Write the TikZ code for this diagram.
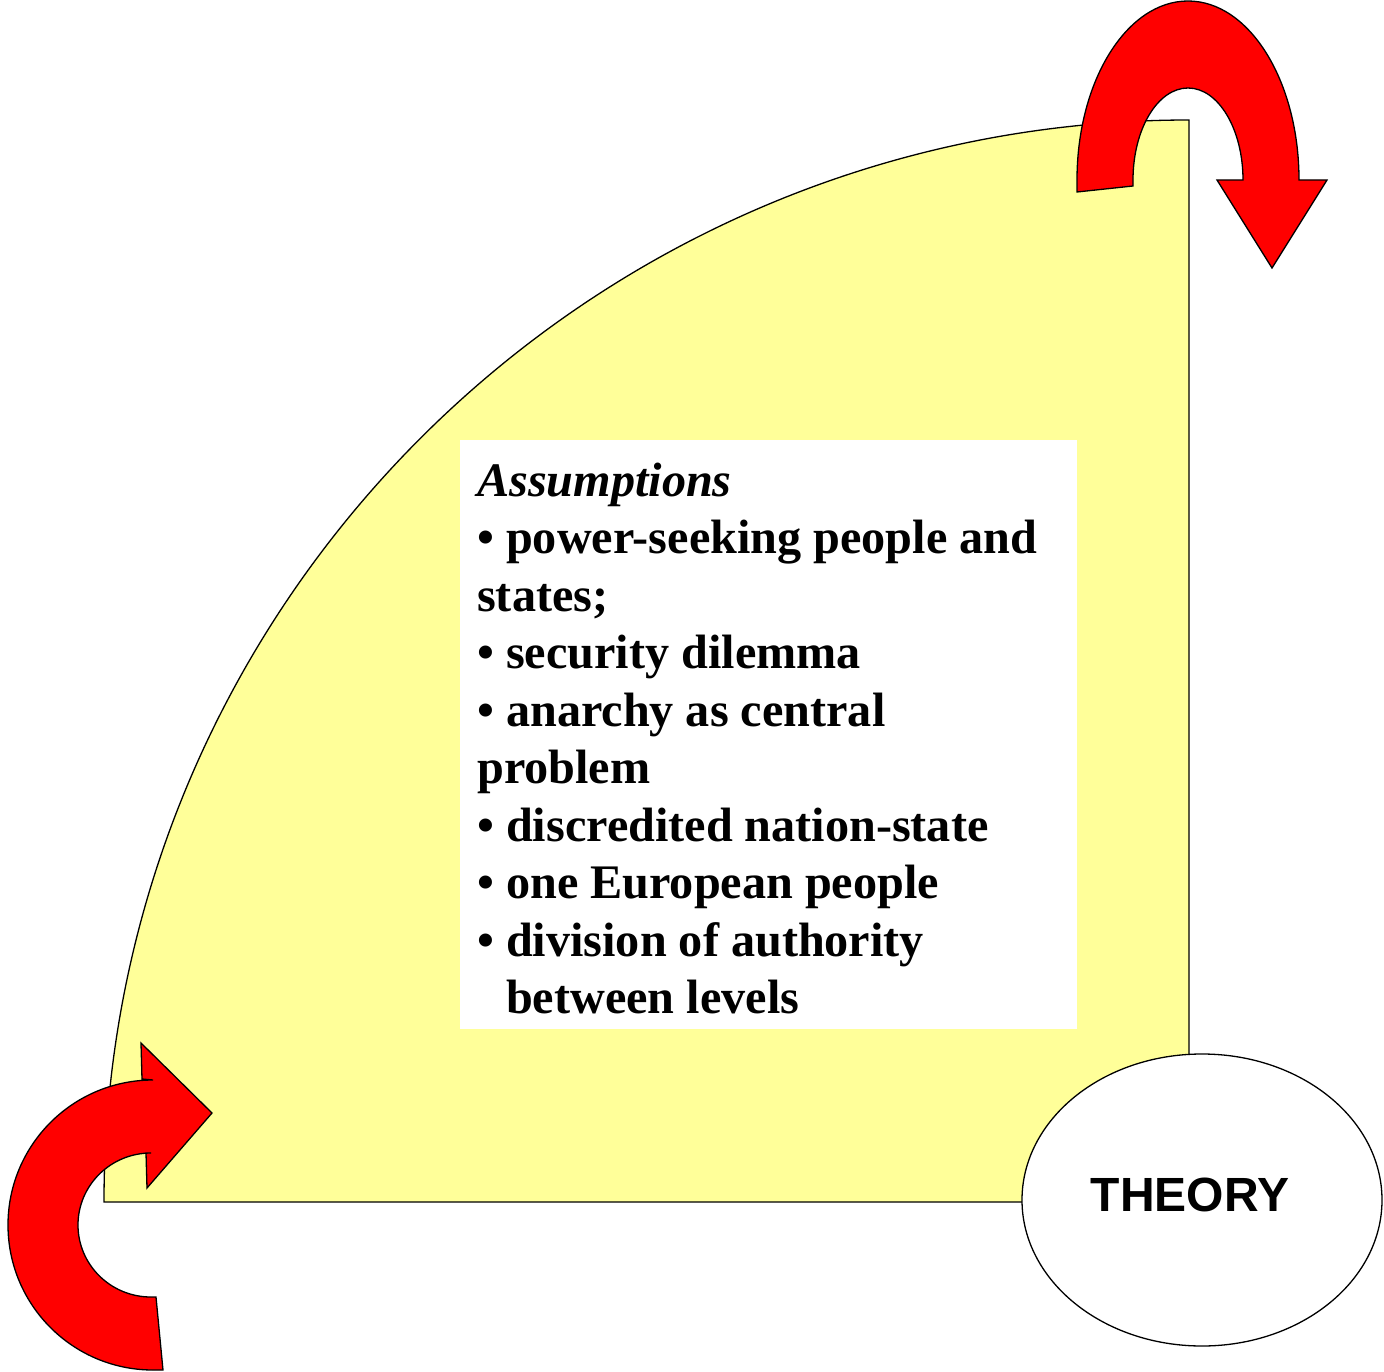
\documentclass[tikz,border=0pt]{standalone}
\usepackage{fontspec}
\setmainfont{Liberation Serif}
\newfontfamily\arialfont{Liberation Sans}
\usetikzlibrary{shapes.geometric}
\definecolor{paleyel}{HTML}{FFFF99}
\definecolor{arrred}{HTML}{FF0000}
\tikzset{
  outline/.style={draw=black, line width=1.3pt, line join=miter},
  redarrow/.style={outline, fill=arrred},
}
\begin{document}
\begin{tikzpicture}[x=1pt, y=-1pt]
\useasboundingbox (0,0) rectangle (1384,1372);
% yellow quarter sector
\path[outline, fill=paleyel] (104,1202) arc[start angle=180, end angle=270, x radius=1085, y radius=1082] -- (1189,1202) -- cycle;
% white text panel
\fill[white] (460,440) rectangle (1077,1029);
\node[anchor=base west, inner sep=0pt, align=left] (txt) at (477,496)
  {\parbox[t]{600pt}{\fontsize{48.2}{57.5}\selectfont\bfseries
  \textit{Assumptions}\\
  • power-seeking people and\\
  states;\\
  • security dilemma\\
  • anarchy as central\\
  problem\\
  • discredited nation-state\\
  • one European people\\
  • division of authority\\
  \hphantom{• }between levels}};
% top-right U-turn arrow
\path[redarrow] (1077,192) -- (1077,180)
  arc[start angle=180, end angle=360, x radius=111, y radius=179]
  -- (1327,180) -- (1272,268) -- (1217,180) -- (1243,180)
  arc[start angle=0, end angle=-180, x radius=55, y radius=92]
  -- (1133,186) -- cycle;
% bottom-left curved arrow
\path[redarrow] (141,1043) -- (212,1113) -- (147,1188) -- (146,1153) -- (151,1153)
  arc[start angle=270, end angle=90, x radius=73, y radius=72]
  -- (156,1297) -- (163,1370) -- (153,1370)
  arc[start angle=90, end angle=270, radius=145]
  -- (142,1079) -- cycle;
% theory ellipse
\node[ellipse, outline, fill=white, minimum width=360pt, minimum height=292pt, inner sep=0pt] (theory) at (1202,1200) {};
\node[anchor=base, inner sep=0pt, font=\arialfont\bfseries\fontsize{48}{57}\selectfont] (theorytext) at (1190,1211) {THEORY};
\end{tikzpicture}
\end{document}
